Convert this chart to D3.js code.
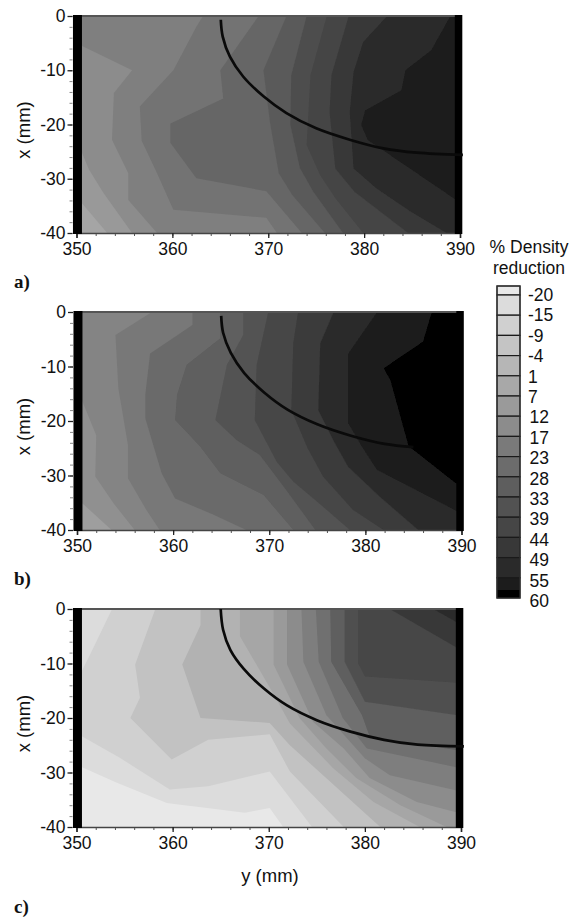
<!DOCTYPE html>
<html>
<head>
  <script src="https://d3js.org/d3.v7.min.js"></script>
  <meta charset='utf-8'>
  <title>Density reduction</title>
  <style>
    body { margin: 0; background: #fff; }
    text { font-family: "Liberation Sans", Arial, sans-serif; fill: #111; }
  </style>
</head>
<body>
  <div id="container"></div>
  <script>
  const width = 581, height = 918;

  // colour key, lightest to darkest
  const bandColors = ["#e8e8e8","#dcdcdc","#d0d0d0","#c4c4c4","#b6b6b6","#a8a8a8","#9a9a9a","#8c8c8c","#7a7a7a","#6c6c6c","#5e5e5e","#525252","#464646","#383838","#2a2a2a","#1c1c1c","#000000"];
  const legendLabels = ["-20","-15","-9","-4","1","7","12","17","23","28","33","39","44","49","55","60"];
  const xTicks = [350,360,370,380,390];
  const yTicks = [0,-10,-20,-30,-40];

  // region where the value is past each contour, as [y mm, x mm]
  const colorsA = ["#a5a5a5","#999999","#8c8c8c","#7f7f7f","#737373","#666666","#5a5a5a","#4e4e4e","#444444","#383838","#2a2a2a","#1c1c1c"];
  const regionsA = [
    [[350,0],[390,0],[390,-40],[350,-40]],
    [[350,-33.3],[353.2,-40],[390,-40],[390,0],[350,0]],
    [[350,-22.8],[351.3,-28.3],[352.8,-32.6],[355.8,-40],[390,-40],[390,0],[350,0]],
    [[350,-5],[355.8,-10],[353.9,-14.2],[353.7,-22.8],[355.4,-29],[355.4,-33.9],[358.4,-40],[390,-40],[390,0],[350,0]],
    [[363.2,0],[362.5,-2],[360.1,-10],[356.6,-16.7],[356.8,-23],[358.4,-29],[360.1,-35.7],[369.8,-37.2],[370.9,-40],[390,-40],[390,0]],
    [[369,0],[365,-10],[365.3,-15.2],[359.8,-19.8],[359.8,-23.4],[362.5,-29.9],[369.8,-32.3],[373.5,-40],[390,-40],[390,0]],
    [[371.9,0],[369.5,-10],[370.2,-19.8],[371.1,-29],[372.5,-33],[375.9,-40],[390,-40],[390,0]],
    [[374,0],[372.4,-10.9],[372.3,-20],[373.3,-28],[374.7,-32.4],[377.8,-40],[390,-40],[390,0]],
    [[376.1,0],[374.4,-10.9],[374,-23.8],[375.4,-29.3],[377,-33.6],[379.9,-40],[390,-40],[390,0]],
    [[378.4,0],[376.6,-10.9],[376.4,-17.7],[377,-28.1],[379,-32.4],[384.6,-40],[390,-40],[390,0]],
    [[382.4,0],[379.9,-4.8],[378.9,-10.3],[378.5,-17.7],[378.9,-28.1],[381.3,-31.8],[384.8,-36],[388.6,-40],[390,-40],[390,0]],
    [[389,0],[387,-6.3],[384.3,-10],[383.9,-13.7],[380.1,-17.4],[379.7,-20.1],[380.4,-22.9],[382.7,-25.6],[390,-34.4],[390,0]]
  ];
  const toolA = [[365.05,-0.7],[365.25,-3.8],[366,-7.5],[367.4,-11.2],[369.5,-14.8],[371.9,-17.9],[375,-20.7],[378.5,-22.8],[382,-24.4],[385.5,-25.2],[390.3,-25.6]];

  const colorsB = ["#9e9e9e","#909090","#848484","#787878","#6b6b6b","#5e5e5e","#525252","#464646","#3a3a3a","#2c2c2c","#1f1f1f","#000000"];
  const regionsB = [
    [[350,0],[390,0],[390,-40],[350,-40]],
    [[350,-34.2],[353.6,-40],[390,-40],[390,0],[350,0]],
    [[350,-14],[352,-22.6],[351.9,-30.2],[353.8,-35.1],[356,-40],[390,-40],[390,0],[350,0]],
    [[357.8,0],[354,-4.2],[354.3,-14],[355.3,-24.4],[355.3,-30.5],[357.2,-36.3],[358.6,-40],[390,-40],[390,0]],
    [[362,0],[362,-2.4],[357.6,-7.6],[357.1,-15.2],[357.1,-19.5],[358.8,-29.6],[360.2,-34.2],[364.2,-37.2],[367.6,-40],[390,-40],[390,0]],
    [[364.9,0],[364.9,-4.8],[361.4,-9.7],[360.4,-15.2],[360.2,-19.8],[362.8,-24.7],[364.9,-29.6],[369.4,-33.6],[372.5,-40],[390,-40],[390,0]],
    [[367.3,0],[367.3,-4.2],[365.6,-9.7],[364.4,-19.8],[366.6,-23.5],[369,-26.2],[371.5,-32],[374.8,-40],[390,-40],[390,0]],
    [[369.9,0],[368.7,-9.7],[368.5,-19.8],[370.8,-27.5],[372.5,-31.1],[375,-34.8],[378.4,-40],[390,-40],[390,0]],
    [[373,0],[372.5,-5.8],[372.3,-18],[374,-25],[375.6,-30.2],[378.7,-36.3],[381.9,-40],[390,-40],[390,0]],
    [[376.7,0],[375.3,-5.8],[375.1,-18],[376.8,-24],[378.2,-28.4],[381.5,-33.9],[385.5,-40],[390,-40],[390,0]],
    [[381.2,0],[378.2,-7.6],[378.2,-20.4],[379.6,-24.7],[381.2,-29],[390,-37],[390,0]],
    [[386.9,0],[386,-5.4],[381.9,-10.3],[382.6,-12.5],[384.5,-24.7],[385.2,-25.6],[389.4,-31.4],[390,-31.4],[390,0]]
  ];
  const toolB = [[365,-0.7],[365.2,-3.8],[366,-7.5],[367.4,-11.2],[369.5,-14.8],[371.9,-17.9],[375,-20.6],[378.5,-22.7],[382,-24.2],[385,-24.8]];

  const colorsC = ["#e8e8e8","#dcdcdc","#d0d0d0","#dcdcdc","#c2c2c2","#b2b2b2","#a6a6a6","#9a9a9a","#8c8c8c","#7e7e7e","#707070","#5e5e5e","#505050","#464646","#383838","#2c2c2c"];
  const regionsC = [
    [[350,0],[390,0],[390,-40],[350,-40]],
    [[350,-28.6],[354.2,-31.9],[359.4,-35.6],[367.5,-37.4],[370.1,-36.5],[371.5,-40],[390,-40],[390,0],[350,0]],
    [[350,-22.8],[354.5,-27.3],[359.7,-33.1],[363.7,-32.5],[370.1,-29.8],[374.5,-40],[390,-40],[390,0],[350,0]],
    [[350,0],[353.7,0],[351.4,-8.4],[350,-13.3]],
    [[358.2,0],[356.1,-10.2],[356.6,-16.3],[355.6,-20],[359.9,-27.6],[363.7,-24],[370.1,-23],[372.2,-29.8],[377.8,-40],[390,-40],[390,0]],
    [[362.9,0],[362.9,-3],[361,-10.2],[362.9,-20],[370.1,-20.9],[372.2,-25],[376.4,-31.7],[381.6,-40],[390,-40],[390,0]],
    [[367,0],[367,-5],[370.5,-15.6],[372.2,-21],[376.7,-29.2],[380.9,-35.4],[385.7,-40],[390,-40],[390,0]],
    [[370.5,0],[370.5,-10.2],[373.2,-20],[376,-25.6],[379.1,-31],[383.7,-36],[388.5,-40],[390,-40],[390,0]],
    [[371.9,0],[371.9,-10.2],[374.6,-20.7],[377.8,-25.6],[380.5,-31],[385.4,-35.4],[390,-37.5],[390,0]],
    [[373.4,0],[373.6,-9.7],[376,-19.5],[380,-27.4],[382.6,-30.5],[390,-33.5],[390,0]],
    [[374.9,0],[375.2,-9.7],[377.7,-20],[380.2,-25.6],[390,-29.2],[390,0]],
    [[376.4,0],[376.5,-9.7],[379.7,-19.5],[380.5,-23.4],[390,-26],[390,0]],
    [[377.9,0],[377.9,-9.7],[380,-17],[390,-19.6],[390,0]],
    [[379.3,0],[379.3,-10],[380,-12.4],[390,-13.6],[390,0]],
    [[382.6,0],[390,-7.5],[390,0]],
    [[387.1,0],[390,-2.9],[390,0]]
  ];
  const toolC = [[365,0],[365.25,-3.8],[366,-7.5],[367.4,-11],[369.5,-14.6],[371.9,-17.7],[375,-20.4],[378.5,-22.5],[382,-24],[385.5,-24.9],[390.3,-25.2]];

  const panels = [
    {name:"a)", colors:colorsA, regions:regionsA, tool:toolA, left:76.5, right:460, top:16, bottom:233, labelY:288},
    {name:"b)", colors:colorsB, regions:regionsB, tool:toolB, left:77, right:461.5, top:312, bottom:530, labelY:585},
    {name:"c)", colors:colorsC, regions:regionsC, tool:toolC, left:76.5, right:461, top:609, bottom:827, labelY:913}
  ];

  const svg = d3.select("#container").append("svg")
    .attr("width", width)
    .attr("height", height)
    .style("display", "block");

  svg.append("filter").attr("id","soft").append("feGaussianBlur").attr("stdDeviation",0.7);

  panels.forEach(function(p, idx) {
    const x = d3.scaleLinear().domain([350,390]).range([p.left,p.right]);
    const y = d3.scaleLinear().domain([0,-40]).range([p.top,p.bottom]);
    const g = svg.append("g");
    const region = d3.line().x(d => x(d[0])).y(d => y(d[1]));

    g.append("g").attr("filter","url(#soft)")
      .selectAll("path")
      .data(p.regions)
      .enter()
      .append("path")
      .attr("d", d => region(d) + "Z")
      .attr("fill", (d,i) => p.colors[i]);

    // minor ticks first so the main axis sits on top
    const minorX = d3.axisBottom(x).tickValues(d3.range(350,391,2)).tickSize(3).tickFormat("");
    const minorY = d3.axisLeft(y).tickValues(d3.range(0,-41,-2)).tickSize(3).tickFormat("");
    g.append("g").attr("transform",`translate(0,${p.bottom})`).call(minorX).attr("color","#555").select(".domain").remove();
    g.append("g").attr("transform",`translate(${p.left-4},0)`).call(minorY).attr("color","#888").select(".domain").remove();

    const xAxis = d3.axisBottom(x).tickValues(xTicks).tickSize(5).tickPadding(5).tickFormat(d => String(d));
    const yAxis = d3.axisLeft(y).tickValues(yTicks).tickSize(5).tickPadding(2).tickFormat(d => String(d));
    g.append("g").attr("class","xa").attr("transform",`translate(0,${p.bottom})`).call(xAxis);
    g.append("g").attr("class","ya").attr("transform",`translate(${p.left-4},0)`).call(yAxis);
    g.selectAll(".xa text,.ya text").style("font-size","17.5px").attr("fill","#111");
    g.selectAll(".xa .domain").attr("stroke","#444").attr("stroke-width",1.5);
    g.selectAll(".ya .domain").remove();
    g.selectAll(".xa line,.ya line").attr("stroke","#222").attr("stroke-width",1.3);

    // top rule and the heavy black side bars
    g.append("line").attr("x1",x(350)).attr("x2",x(390)).attr("y1",y(0)).attr("y2",y(0))
      .attr("stroke","#555").attr("stroke-width",2);
    g.selectAll(".bar").data([350.1,389.85]).enter().append("line").attr("class","bar")
      .attr("x1",d=>x(d)).attr("x2",d=>x(d))
      .attr("y1",y(0)-1).attr("y2",y(-40)+1)
      .attr("stroke","#000").attr("stroke-width",(d,i)=>i==0?9:7.5);

    g.append("path")
      .datum(p.tool)
      .attr("d", d3.line().x(d => x(d[0])).y(d => y(d[1])).curve(d3.curveCatmullRom))
      .attr("fill","none").attr("stroke","#0a0a0a").attr("stroke-width",2.7);

    g.append("text").attr("transform",`translate(30,${(p.top+p.bottom)/2+5.5}) rotate(-90)`)
      .attr("text-anchor","middle").style("font-size","18.5px").text("x (mm)");

    g.append("text").attr("x",14).attr("y",p.labelY)
      .style("font-family","'Liberation Serif', serif").style("font-weight","bold").style("font-size","19px").text(p.name);

    if (idx == 2) {
      g.append("text").attr("x",270).attr("y",881.5).attr("text-anchor","middle").style("font-size","18.5px").text("y (mm)");
    }
  });

  // legend
  const swatchY = d3.scaleLinear().domain([0,15]).range([295,598]);
  const labelY = d3.scaleLinear().domain([0,15]).range([295,601]);
  const legend = svg.append("g");
  legend.append("text").attr("x",529).attr("y",253).attr("text-anchor","middle").style("font-size","17.5px").text("% Density");
  legend.append("text").attr("x",529).attr("y",274).attr("text-anchor","middle").style("font-size","17.5px").text("reduction");

  const swatchTop = i => i == 0 ? 286 : (i == 16 ? 590 : swatchY(i-1));
  const swatchEnd = i => i == 16 ? 598 : swatchY(i);
  legend.selectAll("rect").data(bandColors).enter().append("rect")
    .attr("x",497).attr("width",23)
    .attr("y",(d,i) => swatchTop(i))
    .attr("height",(d,i) => swatchEnd(i) - swatchTop(i))
    .attr("fill",d => d)
    .attr("stroke",(d,i) => i == 16 ? "none" : "#1a1a1a")
    .attr("stroke-width",1.2);
  legend.append("rect").attr("x",497).attr("y",286).attr("width",23).attr("height",312)
    .attr("fill","none").attr("stroke","#333").attr("stroke-width",1.2);

  legend.selectAll(".lab").data(legendLabels).enter().append("text").attr("class","lab")
    .attr("x",d => (d.length == 2 && d[0] != "-") ? 529.5 : 528)
    .attr("y",(d,i) => labelY(i) + 6)
    .style("font-size","17.5px")
    .text(d => d);
  </script>
</body>
</html>
